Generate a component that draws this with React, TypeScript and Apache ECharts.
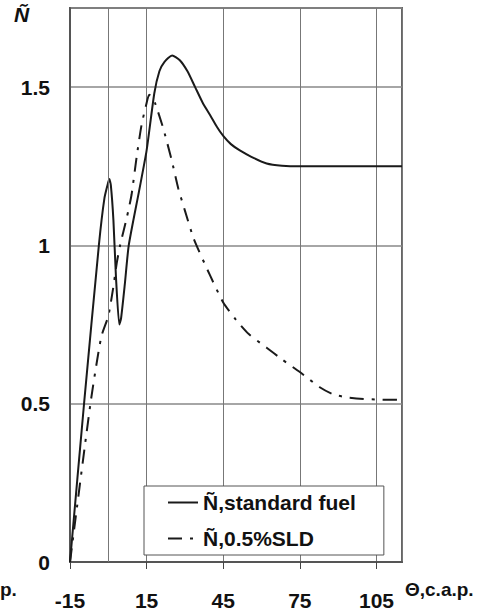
import React, { useEffect, useRef } from "react";
import * as echarts from "echarts";

// crank angle (deg, c.a.p.) and relative value Ñ
const standardX = [-15, -9.5, -3.7, -1.5, 0, 0.4, 1, 2, 3, 4.3, 5, 6.5, 8, 12, 15, 18, 20, 22, 25, 28, 31, 34, 37, 40, 42.5, 45, 48, 51.5, 56, 62, 68, 75, 90, 115];
const standardY = [0, 0.5, 1.0, 1.15, 1.2, 1.21, 1.19, 1.08, 0.9, 0.75, 0.77, 0.88, 1.0, 1.17, 1.3, 1.48, 1.55, 1.58, 1.6, 1.585, 1.55, 1.5, 1.45, 1.41, 1.375, 1.346, 1.32, 1.3, 1.28, 1.259, 1.252, 1.25, 1.25, 1.25];

const sldX = [-15, -7, -2.8, 0, 1.9, 3.3, 4.6, 7.3, 9.1, 11.1, 13, 15, 16, 17, 18.3, 21.5, 24.8, 27.4, 30, 33.5, 39.8, 45, 50, 55, 62, 68, 75, 82.8, 88, 93.3, 100, 106, 115];
const sldY = [0, 0.5, 0.71, 0.777, 0.865, 0.944, 1.0, 1.09, 1.16, 1.28, 1.38, 1.45, 1.476, 1.47, 1.45, 1.37, 1.27, 1.18, 1.11, 1.02, 0.906, 0.82, 0.765, 0.72, 0.677, 0.64, 0.6, 0.552, 0.53, 0.52, 0.515, 0.513, 0.512];

const seriesNames = ["Ñ,standard fuel", "Ñ,0.5%SLD"];
const xMin = -15;
const xMax = 115;
const xTickStep = 30;
const yTicks = [0, 0.5, 1, 1.5];
const tdcLine = 0;

const FONT = "Arial, 'Liberation Sans', sans-serif";

export default function App() {
  const ref = useRef<HTMLDivElement>(null);
  useEffect(() => {
    if (!ref.current) return;
    const chart = echarts.init(ref.current, null, { renderer: "svg" });
    const shift = (v: number) => v - xMin;
    const mk = (xs: number[], ys: number[]) => xs.map((x, i) => [shift(x), ys[i]]);
    chart.setOption({
      animation: false,
      backgroundColor: "#fff",
      grid: {
        left: 70,
        top: 8,
        right: 84,
        bottom: 45,
        show: true,
        borderColor: "#666",
        borderWidth: 2,
      },
      xAxis: {
        type: "value",
        min: 0,
        max: xMax - xMin,
        interval: xTickStep,
        axisLine: { show: true, lineStyle: { color: "#555", width: 2 } },
        axisTick: { show: true, inside: false, length: 7, lineStyle: { color: "#444", width: 1 } },
        axisLabel: {
          margin: 28,
          showMaxLabel: false,
          color: "#111",
          fontSize: 21,
          fontWeight: "bold",
          fontFamily: FONT,
          formatter: (v: number) => String(v + xMin),
        },
        splitLine: { show: true, lineStyle: { color: "#777", width: 1 } },
      },
      yAxis: {
        type: "value",
        min: 0,
        max: 1.75,
        interval: 0.5,
        axisLine: { show: true, lineStyle: { color: "#555", width: 2 } },
        axisTick: { show: false },
        axisLabel: {
          margin: 20,
          showMaxLabel: false,
          color: "#111",
          fontSize: 21,
          fontWeight: "bold",
          fontFamily: FONT,
          formatter: (v: number) => (yTicks.includes(v) ? String(v) : ""),
        },
        splitLine: { show: true, lineStyle: { color: "#888", width: 1.5 } },
      },
      legend: {
        orient: "vertical",
        left: 144,
        top: 486,
        padding: [6, 28, 6, 23],
        itemGap: 15,
        itemWidth: 30,
        itemHeight: 14,
        backgroundColor: "#fff",
        borderColor: "#555",
        borderWidth: 1,
        itemStyle: { opacity: 0, borderWidth: 0 },
        textStyle: { fontSize: 21, fontWeight: "bold", fontFamily: FONT, color: "#111" },
        data: seriesNames,
      },
      series: [
        {
          name: seriesNames[0],
          type: "line",
          data: mk(standardX, standardY),
          showSymbol: false,
          symbol: "none",
          smooth: 0.2,
          lineStyle: { color: "#1a1a1a", width: 2 },
          itemStyle: { color: "#1a1a1a" },
          markLine: {
            silent: true,
            symbol: ["none", "none"],
            label: { show: false },
            lineStyle: { color: "#777", width: 1, type: "solid" },
            data: [{ xAxis: shift(tdcLine) }],
          },
          z: 3,
        },
        {
          name: seriesNames[1],
          type: "line",
          data: mk(sldX, sldY),
          showSymbol: false,
          symbol: "none",
          smooth: 0.2,
          lineStyle: { color: "#1a1a1a", width: 2, type: [14, 8, 3, 8] },
          itemStyle: { color: "#1a1a1a" },
          z: 3,
        },
      ],
      graphic: [
        { type: "rect", left: 397, top: 568, shape: { width: 12, height: 10 }, style: { fill: "#fff" }, z: 100 },
        {
          type: "text",
          left: 14,
          top: 4,
          style: { text: "Ñ", font: `italic bold 21px ${FONT}`, fill: "#111" },
        },
        {
          type: "text",
          left: 405,
          top: 580,
          style: { text: "Θ,c.a.p.", font: `bold 19px ${FONT}`, fill: "#111" },
        },
        {
          type: "text",
          left: 0,
          top: 580,
          style: { text: "p.", font: `bold 19px ${FONT}`, fill: "#111" },
        },
      ],
    });
    return () => chart.dispose();
  }, []);
  return <div ref={ref} style={{ width: 486, height: 611, position: "absolute", left: 0, top: 0 }} />;
}
